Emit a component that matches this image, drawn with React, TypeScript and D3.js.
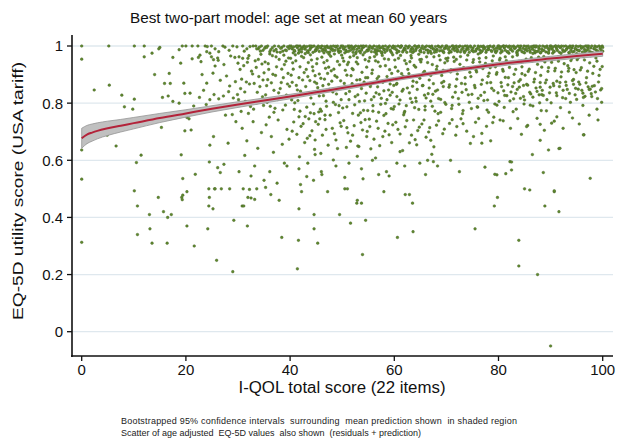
import React from "react";
import * as d3 from "d3";

const titleText = "Best two-part model: age set at mean 60 years";
const xLabel = "I-QOL total score (22 items)";
const yLabel = "EQ-5D utility score (USA tariff)";
const noteLines = [
  "Bootstrapped 95% confidence intervals  surrounding  mean prediction shown  in shaded region",
  "Scatter of age adjusted  EQ-5D values  also shown  (residuals + prediction)",
];

const scoreTicks = [0, 20, 40, 60, 80, 100];
const utilityTicks = [0, 0.2, 0.4, 0.6, 0.8, 1];

const fitScore = [0, 1, 2, 3, 5, 7.5, 10, 15, 20, 25, 30, 35, 40, 45, 50, 55, 60, 65, 70, 75, 80, 85, 90, 95, 100];
const fitMean = [.677, .690, .697, .703, .712, .721, .730, .748, .764, .780, .795, .809, .823, .838, .853, .868, .884, .898, .912, .924, .936, .947, .956, .965, .973];
const fitLower = [.642, .658, .667, .675, .687, .699, .710, .732, .751, .769, .785, .800, .815, .831, .846, .862, .878, .892, .906, .918, .929, .940, .948, .957, .964];
const fitUpper = [.712, .722, .727, .731, .737, .743, .750, .764, .777, .791, .805, .818, .831, .845, .860, .874, .890, .904, .918, .930, .943, .954, .964, .973, .982];

// scatter points as flat [score, utility, score, utility, ...]
const ptsBand = [
  0,1, 5.2,1, 10.1,1, 12,1, 15,.995, 14.8,.99, 18.7,.987, 19.3,1, 20,1, 21.2,1, 22.3,1, 23.7,1, 24.1,.998, 24.9,1, 25.6,.99, 27.1,1, 27.5,.996, 28.3,.985, 29,1, 29.8,.997, 30.9,1, 31.7,.99, 32.3,.998, 32.9,1, 31.2,.982, 26.3,.98,
  33.4,1, 33.9,.99, 34.5,1, 34.8,.985, 35.3,.997, 35.7,1, 36.1,.98, 36.6,.994, 37,1, 37.3,.988, 37.8,.999, 38.1,.978, 38.4,.995, 38.8,1, 39.1,.986, 39.5,.997, 39.8,.991, 36.9,.983, 35.1,.992, 34.1,.996, 38.6,.982, 39.9,1,
  40.2,1, 40.4,.99, 40.7,.997, 40.9,.982, 41.2,1, 41.4,.994, 41.7,.986, 41.9,1, 42.2,.979, 42.4,.996, 42.7,1, 42.9,.989, 43.2,.998, 43.4,.983, 43.7,1, 43.9,.992, 44.2,.997, 44.4,.978, 44.6,1, 44.9,.987, 45.1,.995, 45.4,1, 45.6,.981, 45.9,.993, 46.1,1, 46.3,.988, 46.6,.998, 46.8,.984, 47.1,1, 47.3,.994, 47.6,.979, 47.8,.999, 48.1,.99, 48.3,1, 48.6,.985, 48.8,.996, 49.1,1, 49.3,.982, 49.6,.993, 49.8,1, 40.6,.976, 42.1,.991, 43.5,.977, 45,.985, 46.5,.976, 47.9,.988, 49.4,.977, 41.5,1, 44,1, 46.9,.996,
  50.1,1, 50.3,.989, 50.6,.997, 50.8,.98, 51.1,1, 51.3,.993, 51.6,.985, 51.8,1, 52.1,.978, 52.3,.996, 52.6,1, 52.8,.988, 53.1,.999, 53.3,.982, 53.6,1, 53.8,.991, 54.1,.996, 54.3,.977, 54.6,1, 54.8,.986, 55.1,.994, 55.3,1, 55.6,.98, 55.8,.992, 56.1,1, 56.3,.987, 56.6,.998, 56.8,.983, 57.1,1, 57.3,.993, 57.6,.979, 57.8,.999, 58.1,.989, 58.3,1, 58.6,.984, 58.8,.996, 59.1,1, 59.3,.981, 59.6,.994, 59.8,1, 50.5,.976, 52,.99, 53.5,.976, 55,.984, 56.5,.977, 58,.987, 59.5,.976, 51.4,1, 54,1, 57,.995,
  60.2,.998, 60.4,.987, 60.7,1, 60.9,.981, 61.2,.995, 61.4,1, 61.7,.984, 61.9,.992, 62.2,1, 62.4,.978, 62.7,.997, 62.9,1, 63.2,.988, 63.4,.994, 63.7,.98, 63.9,1, 64.2,.99, 64.4,.997, 64.7,1, 64.9,.983, 65.2,.993, 65.4,1, 65.7,.977, 65.9,.996, 66.2,1, 66.4,.986, 66.7,.999, 66.9,.982, 67.2,1, 67.4,.991, 67.7,.978, 67.9,.998, 68.2,.988, 68.4,1, 68.7,.983, 68.9,.995, 69.2,1, 69.4,.98, 69.7,.993, 69.9,1, 60.5,.976, 62,.99, 63.5,.977, 65,.985, 66.5,.976, 68,.986, 69.5,.977, 61.3,1, 64,1, 67,.996,
  70.1,1, 70.4,.988, 70.6,.996, 70.9,.979, 71.1,1, 71.4,.992, 71.6,.984, 71.9,1, 72.1,.98, 72.4,.997, 72.6,1, 72.9,.987, 73.1,.998, 73.4,.981, 73.6,1, 73.9,.99, 74.1,.995, 74.4,.978, 74.6,1, 74.9,.985, 75.1,.993, 75.4,1, 75.6,.982, 75.9,.991, 76.1,1, 76.4,.986, 76.6,.999, 76.9,.983, 77.1,1, 77.4,.994, 77.6,.978, 77.9,.998, 78.1,.989, 78.4,1, 78.6,.984, 78.9,.996, 79.1,1, 79.4,.98, 79.6,.993, 79.9,1, 70.5,.976, 72,.991, 73.5,.977, 75,.984, 76.5,.976, 78,.987, 79.5,.977, 71.3,1, 74,1, 77,.996,
  80.1,1, 80.3,.99, 80.5,.997, 80.7,.981, 80.9,1, 81.1,.993, 81.3,.985, 81.5,1, 81.7,.979, 81.9,.996, 82.1,1, 82.3,.988, 82.5,.998, 82.7,.982, 82.9,1, 83.1,.991, 83.3,.995, 83.5,.977, 83.7,1, 83.9,.986, 84.1,.994, 84.3,1, 84.5,.98, 84.7,.992, 84.9,1, 85.1,.987, 85.3,.999, 85.5,.983, 85.7,1, 85.9,.993, 86.1,.978, 86.3,.998, 86.5,.989, 86.7,1, 86.9,.984, 87.1,.996, 87.3,1, 87.5,.981, 87.7,.994, 87.9,1, 88.1,.976, 88.3,.99, 88.5,1, 88.7,.985, 88.9,.997, 89.1,.979, 89.3,1, 89.5,.992, 89.7,.986, 89.9,1, 80.4,.976, 82,.975, 83.6,.973, 85,.976, 86.6,.974, 88,.977, 89.6,.975, 81,1, 84,.999, 87,1,
  90.1,1, 90.3,.989, 90.5,.997, 90.7,.98, 90.9,1, 91.1,.994, 91.3,.984, 91.5,1, 91.7,.978, 91.9,.995, 92.1,1, 92.3,.987, 92.5,.999, 92.7,.982, 92.9,1, 93.1,.99, 93.3,.996, 93.5,.977, 93.7,1, 93.9,.985, 94.1,.993, 94.3,1, 94.5,.981, 94.7,.991, 94.9,1, 95.1,.986, 95.3,.998, 95.5,.983, 95.7,1, 95.9,.992, 96.1,.979, 96.3,.997, 96.5,.988, 96.7,1, 96.9,.984, 97.1,.995, 97.3,1, 97.5,.98, 97.7,.993, 97.9,1, 98.1,.976, 98.3,.99, 98.5,1, 98.7,.986, 98.9,.997, 99.1,.978, 99.3,1, 99.5,.991, 99.7,.985, 99.9,1, 90.4,.975, 92,.974, 93.6,.976, 95,.973, 96.6,.975, 98,.974, 99.6,.972, 91,1, 94,.999, 97,1, 100,.995, 100,.982,
];

const ptsBandExtra = [
  33.6,.99, 34.3,.982, 35.5,.995, 36.3,.987, 37.5,.979, 38.2,.992, 39.3,.984,
  40.3,.993, 40.8,.985, 41.3,.998, 41.8,.981, 42.3,.989, 42.8,.995, 43.3,.979, 43.8,.987, 44.3,.999, 44.8,.982, 45.3,.991, 45.8,.997, 46.2,.983, 46.7,.988, 47.2,.978, 47.7,.993, 48.2,.984, 48.7,.999, 49.2,.989, 49.7,.981,
  50.2,.994, 50.7,.986, 51.2,.981, 51.7,.996, 52.2,.988, 52.7,.979, 53.2,.993, 53.7,.985, 54.2,.999, 54.7,.982, 55.2,.99, 55.7,.996, 56.2,.979, 56.7,.987, 57.2,.983, 57.7,.994, 58.2,.978, 58.7,.991, 59.2,.986, 59.7,.997,
  60,.991, 60.6,.983, 61.1,.997, 61.6,.979, 62.1,.986, 62.6,.993, 63.1,.981, 63.6,.989, 64.1,.984, 64.6,.996, 65.1,.979, 65.6,.99, 66.1,.986, 66.6,.982, 67.1,.994, 67.6,.988, 68.1,.98, 68.6,.997, 69.1,.984, 69.6,.99,
  70,.993, 70.7,.982, 71.2,.989, 71.7,.997, 72.2,.985, 72.7,.979, 73.2,.992, 73.7,.984, 74.2,.988, 74.7,.996, 75.2,.98, 75.7,.987, 76.2,.994, 76.7,.979, 77.2,.99, 77.7,.985, 78.2,.997, 78.7,.981, 79.2,.988, 79.7,.983,
  80,.992, 80.6,.984, 81.2,.998, 81.8,.98, 82.4,.989, 83,.994, 83.6,.982, 84.2,.987, 84.8,.978, 85.4,.991, 86,.985, 86.6,.996, 87.2,.98, 87.8,.988, 88.4,.983, 89,.995, 89.6,.979,
  90,.993, 90.6,.982, 91.2,.989, 91.8,.996, 92.4,.981, 93,.987, 93.6,.994, 94.2,.979, 94.8,.99, 95.4,.984, 96,.997, 96.6,.982, 97.2,.988, 97.8,.978, 98.4,.993, 99,.983, 99.6,.996,
];

const ptsUpper = [
  0,.954, 2.4,.846, 5.3,.863, 7.7,.828, 10.1,.814, 8.2,.787, 9.8,.779, 4.9,.688, 6.6,.65, 0.8,.662, 0,.636,
  12,.962, 16.8,.904, 15.9,.869, 17,.869, 15.3,.715, 11.4,.618, 19.1,.619, 19.8,.703, 15.5,.82, 16.6,.825, 17.5,.806, 18.7,.8, 19.6,.87, 19.8,.834, 13.5,.975, 17.5,.96, 19,.94, 14,.9,
  21,.706, 21.2,.955, 22.4,.96, 22.9,.945, 24.6,.975, 24.9,.962, 25.3,.952, 26.1,.958, 25.6,.93, 27.3,.935, 28.6,.965, 29.4,.96, 30,.94, 23.1,.9, 24,.87, 25.2,.905, 26.6,.88, 27.8,.895, 28.4,.86, 29.5,.875, 20.8,.835, 22.6,.82, 23.4,.845, 24.6,.812, 25.4,.83, 26.3,.815, 27.2,.825, 28.2,.84, 29.1,.818, 29.9,.83, 21.5,.79, 23.9,.795, 27.6,.758, 28.9,.76, 29.6,.735, 28.1,.66, 25.3,.683, 24.6,.653, 20.2,.75, 20.6,.745, 22.7,.968, 24,.98, 26.2,.95,
  30.2,.962, 30.7,.884, 31.1,.931, 31.4,.806, 31.9,.957, 32.2,.867, 32.6,.912, 33,.779, 33.3,.948, 33.7,.838, 34,.893, 34.4,.971, 34.7,.822, 35,.906, 30.5,.851, 32,.764, 33.5,.925, 34.9,.792,
  30.8,.712, 31.7,.668, 32.9,.735, 33.8,.642, 34.5,.697, 31.3,.617,
  35.2,.944, 35.5,.861, 35.9,.918, 36.2,.789, 36.6,.966, 36.9,.845, 37.2,.897, 37.6,.813, 37.9,.953, 38.3,.872, 38.6,.776, 38.9,.935, 39.3,.828, 39.6,.904, 39.9,.859, 36,.751, 37.4,.927, 38.8,.968, 39.1,.793, 35.7,.882,
  35.4,.724, 36.4,.683, 37.7,.741, 38.5,.656, 39.4,.708, 36.8,.628, 39.8,.674,
  40.1,.957, 40.4,.873, 40.6,.919, 40.9,.801, 41.1,.948, 41.4,.846, 41.7,.889, 41.9,.772, 42.2,.964, 42.5,.831, 42.7,.907, 43,.858, 43.2,.786, 43.5,.942, 43.8,.879, 44,.818, 44.3,.927, 44.6,.763, 44.8,.896, 40.3,.811, 41.6,.975, 42.9,.753, 43.9,.969, 44.9,.838,
  40.7,.734, 41.3,.691, 42.1,.719, 42.8,.662, 43.6,.745, 44.2,.703, 44.7,.638, 41.8,.612, 43.3,.677, 44.8,.671, 44.8,.62,
  45.1,.938, 45.3,.854, 45.6,.902, 45.8,.779, 46.1,.961, 46.4,.826, 46.6,.884, 46.9,.807, 47.1,.949, 47.4,.866, 47.7,.758, 47.9,.913, 48.2,.839, 48.5,.972, 48.7,.795, 49,.891, 49.2,.851, 49.5,.934, 49.8,.812, 45.5,.769, 46.8,.922, 48,.877, 49.3,.767, 47.5,.971,
  45.4,.726, 46.2,.688, 46.7,.742, 47.3,.653, 48.1,.712, 48.8,.671, 49.6,.731, 45.9,.624, 49.1,.641,
  50.1,.958, 50.4,.869, 50.6,.915, 50.9,.787, 51.2,.943, 51.4,.841, 51.7,.896, 52,.764, 52.2,.966, 52.5,.823, 52.8,.881, 53,.937, 53.3,.806, 53.6,.862, 53.8,.908, 54.1,.775, 54.4,.952, 54.6,.835, 54.9,.889, 50.7,.833, 51.9,.921, 53.1,.758, 54.2,.874, 52.6,.973,
  50.3,.739, 51.1,.696, 51.6,.667, 52.3,.721, 53.2,.648, 53.9,.706, 54.7,.683, 52.9,.614, 54.4,.742, 50.8,.645, 53,.65,
  55.1,.947, 55.4,.858, 55.7,.904, 55.9,.791, 56.2,.963, 56.5,.836, 56.7,.886, 57,.768, 57.3,.929, 57.5,.817, 57.8,.873, 58.1,.955, 58.3,.799, 58.6,.893, 58.9,.846, 59.1,.917, 59.4,.781, 59.7,.969, 59.9,.862, 55.6,.812, 56.9,.944, 58,.757, 59.2,.828, 57.6,.975,
  55.3,.718, 56.1,.674, 56.6,.737, 57.2,.651, 58.2,.702, 58.8,.729, 59.5,.662, 56.4,.608, 59,.689, 55.5,.64,
  60.1,.951, 60.4,.866, 60.7,.912, 60.9,.797, 61.2,.967, 61.5,.842, 61.7,.894, 62,.771, 62.3,.938, 62.5,.853, 62.8,.903, 63.1,.816, 63.3,.958, 63.6,.877, 63.9,.784, 64.1,.926, 64.4,.848, 64.7,.971, 64.9,.887, 60.5,.823, 61.8,.759, 63,.945, 64.2,.806,
  60.3,.733, 61.1,.692, 62.1,.717, 62.9,.661, 63.7,.741, 64.5,.704, 61.6,.634, 64,.672, 61.1,.63, 64.3,.654,
  65.1,.944, 65.4,.861, 65.6,.907, 65.9,.789, 66.2,.962, 66.5,.833, 66.7,.881, 67,.807, 67.3,.935, 67.5,.868, 67.8,.772, 68.1,.918, 68.3,.846, 68.6,.966, 68.9,.813, 69.1,.897, 69.4,.858, 69.7,.941, 69.9,.796, 65.8,.828, 67.1,.974, 68.4,.763, 69.5,.876,
  65.3,.727, 66.1,.681, 66.8,.714, 67.6,.647, 68.5,.738, 69.3,.693, 67.2,.621, 67,.67,
  70.2,.948, 70.5,.856, 70.8,.909, 71.1,.792, 71.4,.961, 71.7,.838, 72,.884, 72.3,.816, 72.6,.936, 72.9,.869, 73.2,.774, 73.5,.921, 73.8,.847, 74.1,.968, 74.4,.803, 74.7,.893, 74.9,.831, 71.9,.953, 73.6,.889,
  70.6,.729, 71.8,.688, 72.8,.745, 73.9,.702, 74.6,.659, 72,.718,
  75.1,.943, 75.4,.862, 75.7,.915, 76,.786, 76.3,.957, 76.6,.827, 76.9,.881, 77.2,.809, 77.5,.939, 77.8,.871, 78.1,.768, 78.4,.924, 78.7,.852, 79,.965, 79.3,.797, 79.6,.901, 79.9,.836, 76.1,.972, 78,.894,
  75.6,.733, 76.8,.694, 77.7,.719, 79.1,.751, 78.5,.668, 75.2,.683, 76.8,.66,
  80.2,.951, 80.5,.872, 80.8,.918, 81,.843, 81.3,.962, 81.6,.826, 81.9,.889, 82.2,.808, 82.5,.941, 82.7,.858, 83,.901, 83.3,.834, 83.6,.968, 83.9,.876, 84.2,.817, 84.5,.927, 84.8,.862, 81.1,.785, 83.4,.779, 84.9,.797, 79.7,.907, 81.3,.89, 85.1,.898,
  80.9,.738, 82.3,.712, 83.7,.746, 84.4,.691, 80.3,.741, 82.8,.77,
  85.1,.947, 85.4,.866, 85.7,.911, 86,.838, 86.3,.959, 86.6,.821, 86.9,.884, 87.2,.853, 87.5,.936, 87.8,.829, 88.1,.897, 88.4,.845, 88.7,.963, 89,.871, 89.3,.812, 89.6,.924, 89.9,.856, 86.1,.793, 88.2,.774, 87,.976, 88,.872, 88.3,.83, 89.2,.773, 86.6,.79,
  85.6,.722, 87.4,.747, 88.8,.705, 85.4,.718, 88,.726, 88,.67, 89.6,.636, 86.5,.62,
  90.2,.943, 90.5,.869, 90.8,.913, 91.1,.836, 91.4,.961, 91.7,.858, 92,.892, 92.3,.819, 92.6,.938, 92.9,.874, 93.2,.848, 93.5,.922, 93.8,.803, 94.1,.957, 94.4,.866, 94.7,.829, 94.9,.907, 91.9,.784, 93.6,.768, 91.2,.877, 93.4,.912, 94.4,.883,
  90.7,.737, 92.4,.712, 94.2,.748, 90.2,.73, 91.2,.752, 91.6,.641, 91.8,.642,
  95.1,.952, 95.4,.874, 95.7,.916, 96,.845, 96.3,.963, 96.6,.824, 96.9,.889, 97.2,.857, 97.5,.941, 97.8,.833, 98.1,.904, 98.4,.861, 98.7,.958, 99,.816, 99.3,.897, 99.6,.846, 99.9,.928, 96.2,.792, 98.9,.779, 99.8,.803, 95.3,.849, 97.6,.849, 96.3,.82,
  95.5,.727, 97.4,.758, 99.1,.741, 96.4,.689, 96.3,.689,
];

const ptsUpperExtra = [
  30.4,.918, 31.6,.874, 30.9,.957, 32.8,.902, 33.9,.953, 31.3,.839, 34.6,.937, 32.4,.788, 33.1,.869, 30.1,.812, 34.2,.858, 31.8,.943, 33.6,.801, 32.1,.966, 34.8,.881, 30.6,.771,
  35.8,.938, 36.7,.901, 37.3,.962, 38.4,.919, 39.2,.947, 35.3,.829, 36.4,.871, 37.8,.836, 38.7,.889, 39.7,.958, 36.1,.972, 37.1,.782, 38.1,.851, 39.5,.867, 35.6,.803, 39,.819, 36.9,.768,
  40.5,.941, 41.2,.862, 41.9,.927, 42.6,.959, 43.4,.893, 44.1,.951, 44.7,.874, 40.2,.898, 41.5,.809, 42.4,.881, 43.1,.918, 43.7,.836, 44.5,.797, 40.8,.778, 42,.842, 43.9,.766, 41,.969, 42.9,.973, 44.4,.913, 41.7,.752,
  45.2,.955, 45.9,.887, 46.5,.942, 47.2,.904, 47.8,.964, 48.4,.919, 49.1,.946, 49.7,.878, 45.6,.825, 46.3,.861, 47,.789, 47.6,.848, 48.3,.803, 48.9,.832, 49.4,.791, 46,.772, 47.4,.926, 48.6,.896, 49.9,.968, 45.1,.869, 46.7,.758,
  50.3,.947, 50.9,.898, 51.5,.961, 52.1,.917, 52.7,.944, 53.4,.882, 54,.969, 54.7,.926, 50.6,.856, 51.3,.812, 51.9,.868, 52.4,.794, 53,.829, 53.7,.851, 54.3,.808, 54.9,.774, 50.1,.783, 52.9,.959, 53.5,.766, 51,.935, 54.5,.889,
  55.3,.959, 55.8,.916, 56.4,.948, 57,.893, 57.7,.967, 58.3,.931, 58.9,.953, 59.5,.904, 55.5,.866, 56.1,.822, 56.8,.857, 57.4,.796, 58,.843, 58.6,.812, 59.2,.867, 59.8,.779, 55.9,.772, 57.1,.831, 58.4,.763, 59.6,.838, 56.6,.971,
  60.2,.926, 60.8,.957, 61.4,.903, 62,.949, 62.6,.918, 63.2,.966, 63.8,.932, 64.4,.895, 64.9,.952, 60.5,.869, 61.1,.811, 61.7,.848, 62.3,.791, 62.9,.836, 63.5,.859, 64.1,.818, 64.7,.778, 60,.788, 61.9,.766, 63.4,.803, 64.3,.873,
  65.2,.953, 65.8,.911, 66.4,.942, 67,.897, 67.6,.962, 68.2,.929, 68.8,.951, 69.4,.915, 65.5,.862, 66.1,.818, 66.7,.853, 67.3,.789, 67.9,.842, 68.5,.816, 69.1,.871, 69.7,.802, 65.9,.776, 67.4,.831, 68.9,.768, 69.9,.956,
  70.3,.958, 70.9,.917, 71.5,.946, 72.1,.902, 72.7,.963, 73.3,.924, 73.9,.951, 74.5,.908, 70.6,.864, 71.2,.821, 71.8,.859, 72.4,.796, 73,.838, 73.6,.867, 74.2,.829, 74.8,.781, 71,.781, 73.1,.763,
  75.2,.952, 75.8,.909, 76.4,.944, 77,.921, 77.6,.959, 78.2,.905, 78.8,.948, 79.4,.927, 75.5,.854, 76.1,.817, 76.7,.866, 77.3,.838, 77.9,.811, 78.5,.872, 79.1,.844, 79.7,.793, 75.9,.787, 77.8,.776,
  80.3,.957, 80.9,.912, 81.5,.949, 82.1,.925, 82.7,.962, 83.3,.918, 83.9,.946, 84.5,.903, 80.6,.858, 81.2,.827, 81.8,.864, 82.4,.839, 83,.871, 83.6,.848, 84.2,.882, 84.8,.823, 80.1,.806, 82.9,.815, 84,.856,
  85.3,.954, 85.9,.919, 86.5,.948, 87.1,.907, 87.7,.961, 88.3,.926, 88.9,.944, 89.5,.911, 85.6,.863, 86.2,.832, 86.8,.874, 87.4,.841, 88,.856, 88.6,.827, 89.2,.881, 89.8,.836, 85,.811, 87.9,.801,
  90.3,.956, 90.9,.922, 91.5,.947, 92.1,.909, 92.7,.963, 93.3,.931, 93.9,.949, 94.5,.917, 90.6,.861, 91.2,.826, 91.8,.872, 92.4,.845, 93,.862, 93.6,.834, 94.2,.879, 94.8,.852, 90.1,.801, 92.9,.816,
  95.3,.958, 95.9,.924, 96.5,.951, 97.1,.912, 97.7,.966, 98.3,.929, 98.9,.947, 99.5,.918, 95.6,.866, 96.2,.835, 96.8,.871, 97.4,.848, 98,.859, 98.6,.839, 99.2,.874, 99.8,.851, 95,.813, 97.9,.823,
  40.4,.702, 42.5,.728, 43.8,.686, 44.9,.735, 45.7,.745, 46.9,.708, 48.5,.693, 49.8,.719, 50.9,.714, 52,.688, 53.6,.732, 54.8,.701,
  55.2,.744, 56.9,.712, 57.8,.683, 59.7,.724, 60.7,.708, 62.4,.739, 63.3,.688, 64.8,.716, 65.7,.741, 66.6,.699, 68.1,.723, 69.6,.709,
  71.1,.742, 73.2,.728, 76.2,.746, 78.9,.732,
];

const ptsLower = [
  0,.313, 0,.534, 10.1,.493, 10.5,.592, 10.7,.44, 10.7,.34, 13,.41, 13.1,.36, 13.5,.31, 14.7,.47, 15.7,.42, 16.5,.4, 17.2,.41, 16.4,.31,
  19.2,.47, 19.4,.478, 19.3,.462, 20.2,.49, 20.2,.37, 21.6,.3, 24.2,.36, 24.4,.44, 24.5,.47, 25.2,.43, 25.9,.25, 25.5,.5, 28.4,.5, 29,.21,
  29.2,.39, 30.8,.44, 31.1,.44, 31.8,.37, 31.9,.47, 32.5,.468, 33.2,.463, 31,.5, 32.2,.498, 33.6,.5, 35.3,.505, 36.3,.48, 37.9,.46, 38.4,.33,
  41.4,.22, 41.6,.32, 41.7,.43, 42.2,.49, 44.6,.41, 44.6,.36, 45.3,.31, 47.2,.49, 49.5,.41, 50.5,.5, 51,.5, 51.6,.38, 52.9,.46, 52.8,.45,
  53.7,.45, 54.5,.39, 53.9,.27, 58,.49, 60.6,.33, 62.1,.48, 62.9,.48, 63.5,.45, 63.6,.35, 75.5,.36, 79.2,.44, 79.8,.47, 83.9,.32, 83.9,.23,
  85,.5, 87.5,.2, 88.9,.44, 90.7,.49, 91.6,.42, 90,-.05, 86,.496, 90.7,.493,
  24.4,.5, 25.6,.5, 26.8,.5, 19.4,.536, 21.8,.551, 24.5,.594, 26.1,.574, 27.3,.586, 26.6,.557, 43.2,.543, 44.5,.53, 46,.56, 50.5,.54, 54,.535,
  57,.55, 59,.545, 48.3,.601, 60.5,.59, 64.9,.59, 67.5,.595, 68.3,.58, 77.4,.576, 79.7,.549, 82.2,.595, 82.5,.566, 88.6,.557, 97.6,.537,
  72.5,.56, 70.8,.6, 66,.55, 30.2,.56, 32.5,.545, 35,.53, 37.5,.52, 39.4,.58, 42,.515, 33.2,.58, 36.1,.56, 38.9,.59, 41.7,.57, 43.4,.59,
  46.1,.55, 48.8,.58, 51.3,.59, 53.7,.57, 55.8,.6, 58.5,.56, 62,.58, 66.4,.6, 82.5,.594, 79.3,.551, 81.4,.553,
];

const toPairs = (a: number[]) => {
  const out: [number, number][] = [];
  for (let i = 0; i + 1 < a.length; i += 2) out.push([a[i], a[i + 1]]);
  return out;
};

export default function App() {
  const W = 618, H = 444;
  const x = d3.scaleLinear().domain([0, 100]).range([81.7, 602.7]);
  const y = d3.scaleLinear().domain([0, 1]).range([331.7, 46]);
  const axisLeft = 72, axisRight = 613, axisTop = 35, axisBottom = 356;
  const font = "Arial, 'Liberation Sans', sans-serif";

  const points = [
    ...toPairs(ptsLower), ...toPairs(ptsUpper), ...toPairs(ptsUpperExtra),
    ...toPairs(ptsBand), ...toPairs(ptsBandExtra),
  ];
  const fit = fitScore.map((s, i) => ({ s, m: fitMean[i], lo: fitLower[i], hi: fitUpper[i] }));
  const area = d3.area<any>().x(d => x(d.s)).y0(d => y(d.lo)).y1(d => y(d.hi)).curve(d3.curveMonotoneX);
  const line = d3.line<any>().x(d => x(d.s)).y(d => y(d.m)).curve(d3.curveMonotoneX);

  return (
    <svg width={W} height={H} style={{ position: "absolute", left: 0, top: 0, background: "#fff" }} fontFamily={font}>
      <rect x={0} y={0} width={W} height={H} fill="#fff" />
      <text x={130} y={23} fontSize={15.3} fill="#111">{titleText}</text>
      {utilityTicks.map(t => (
        <line key={"g" + t} x1={axisLeft} x2={axisRight} y1={y(t)} y2={y(t)} stroke="#dfe8ee" strokeWidth={1.3} />
      ))}
      <g>
        {points.map((p, i) => (
          <circle key={i} cx={x(p[0])} cy={y(p[1])} r={1.35} fill="#5f8a2c" stroke="#46602a" strokeWidth={0.4} />
        ))}
      </g>
      <path d={area(fit) || ""} fill="#c0c0c0" stroke="#949494" strokeWidth={0.8} />
      <path d={line(fit) || ""} fill="none" stroke="#b3233a" strokeWidth={2} />
      <line x1={axisLeft} x2={axisLeft} y1={axisTop} y2={axisBottom + 1} stroke="#111" strokeWidth={1.6} />
      <line x1={axisLeft - 1} x2={axisRight} y1={axisBottom} y2={axisBottom} stroke="#111" strokeWidth={1.6} />
      {utilityTicks.map(t => (
        <g key={"yt" + t}>
          <line x1={axisLeft - 5} x2={axisLeft} y1={y(t)} y2={y(t)} stroke="#111" strokeWidth={1.3} />
          <text x={63} y={y(t)} dy="0.36em" textAnchor="end" fontSize={15} fill="#111">{d3.format("~g")(t)}</text>
        </g>
      ))}
      {scoreTicks.map(t => (
        <g key={"xt" + t}>
          <line x1={x(t)} x2={x(t)} y1={axisBottom} y2={axisBottom + 5} stroke="#111" strokeWidth={1.3} />
          <text x={x(t)} y={375} textAnchor="middle" fontSize={15} fill="#111">{t}</text>
        </g>
      ))}
      <text x={342} y={393} textAnchor="middle" fontSize={16} textLength={207} lengthAdjust="spacingAndGlyphs" fill="#111">{xLabel}</text>
      <text transform="translate(23,191) rotate(-90)" textAnchor="middle" fontSize={15.5} textLength={258} lengthAdjust="spacingAndGlyphs" fill="#111">{yLabel}</text>
      <text x={121} y={424} fontSize={9} fill="#222" textLength={396} lengthAdjust="spacing" style={{ whiteSpace: "pre" }}>{noteLines[0]}</text>
      <text x={121} y={435.5} fontSize={9} fill="#222" style={{ whiteSpace: "pre" }}>{noteLines[1]}</text>
    </svg>
  );
}
